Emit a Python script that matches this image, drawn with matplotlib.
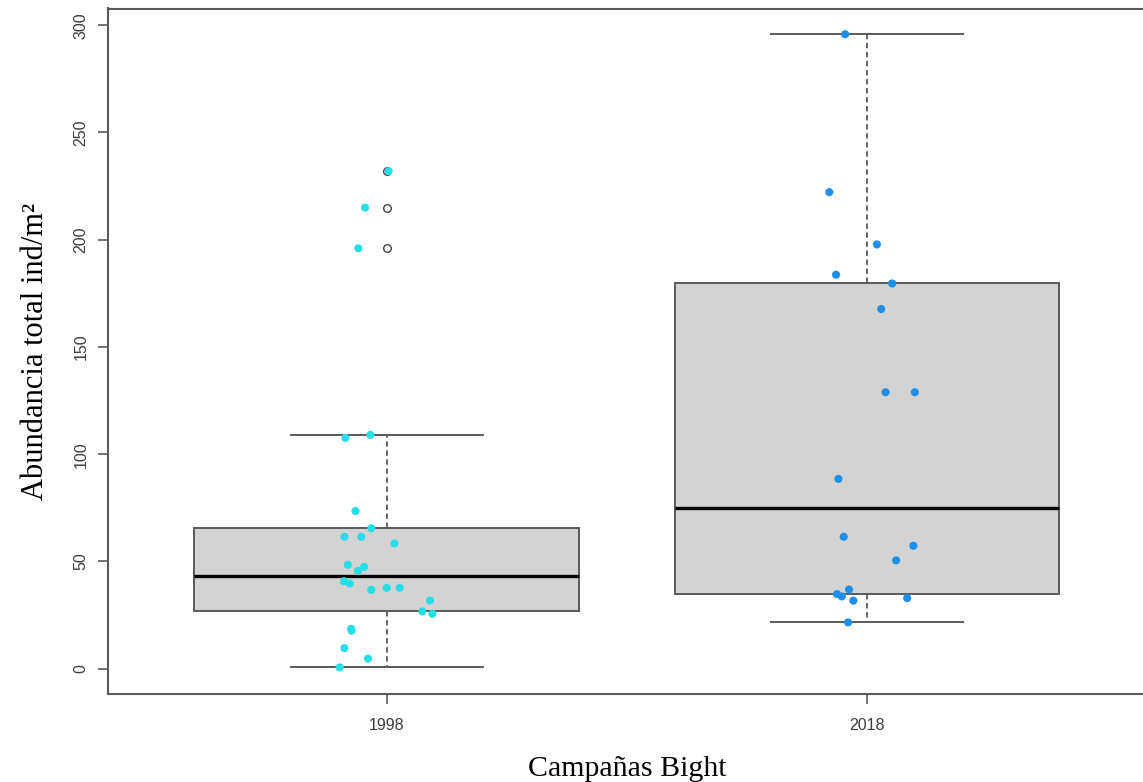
import matplotlib
matplotlib.use("Agg")
import matplotlib.pyplot as plt

# --- data ---
years = ["1998", "2018"]

# box statistics (R style hinges)
box_q1 = [26.7, 34.8]
box_med = [43.2, 75.0]
box_q3 = [65.5, 179.6]
whisker_lo = [0.6, 21.6]
whisker_hi = [109.0, 295.8]
outliers = [[196.0, 215.0, 232.0], []]

# jittered sample points: abundance and horizontal jitter (group units)
abund_1998 = [107.6, 109.0, 73.5, 65.5, 61.5, 61.5, 58.4, 48.4, 45.6, 47.5,
              40.8, 39.7, 36.8, 37.7, 37.7, 31.8, 26.7, 25.6, 18.6, 17.7,
              9.6, 4.7, 0.6, 232.0, 215.0, 196.0]
jitter_1998 = [-0.086, -0.034, -0.065, -0.032, -0.088, -0.053, 0.016, -0.081, -0.060, -0.047,
               -0.089, -0.077, -0.032, 0.000, 0.027, 0.090, 0.074, 0.095, -0.074, -0.073,
               -0.088, -0.039, -0.098, 0.004, -0.045, -0.059]

abund_2018 = [295.8, 222.2, 197.8, 183.7, 179.6, 167.7, 128.9, 128.9, 88.5,
              61.5, 57.3, 50.5, 36.9, 34.8, 33.7, 31.7, 32.9, 21.6]
jitter_2018 = [-0.046, -0.079, 0.020, -0.065, 0.052, 0.029, 0.038, 0.099, -0.060,
               -0.049, 0.096, 0.060, -0.038, -0.063, -0.053, -0.029, 0.083, -0.040]

point_colors = ["#27DEE6", "#1E8FE8"]
edge_gray = "#5a5a5a"
text_gray = "#3c3c3c"

fig = plt.figure(figsize=(11.43, 7.82), dpi=100)
ax = fig.add_axes([108 / 1143, 1 - 694 / 782, (1146 - 108) / 1143, (694 - 8.5) / 782])

stats = []
for i, name in enumerate(years):
    stats.append({
        "label": name,
        "q1": box_q1[i], "med": box_med[i], "q3": box_q3[i],
        "whislo": whisker_lo[i], "whishi": whisker_hi[i],
        "fliers": outliers[i],
    })

ax.bxp(stats, positions=[1, 2], widths=0.8, patch_artist=True,
       boxprops=dict(facecolor="#D3D3D3", edgecolor=edge_gray, linewidth=1.4),
       medianprops=dict(color="black", linewidth=2.4),
       whiskerprops=dict(color=edge_gray, linewidth=1.3, linestyle=(0, (3, 2))),
       capprops=dict(color=edge_gray, linewidth=1.4),
       capwidths=0.4,
       flierprops=dict(marker="o", markerfacecolor="none", markeredgecolor="#444444",
                       markersize=5.5, markeredgewidth=1.0),
       zorder=2)

groups = [(abund_1998, jitter_1998), (abund_2018, jitter_2018)]
for i, (vals, jit) in enumerate(groups):
    xs = [i + 1 + j for j in jit]
    ax.scatter(xs, vals, s=34, color=point_colors[i], edgecolors="none", zorder=4)

ax.set_xlim(0.42, 2.58)
ax.set_ylim(-11.8, 307.8)
ax.set_xticks([1, 2])
ax.set_xticklabels(years)
ax.set_yticks([0, 50, 100, 150, 200, 250, 300])

for lab in ax.get_yticklabels():
    lab.set_rotation(90)
    lab.set_va("center")

ax.tick_params(axis="both", length=7, width=1.2, color=edge_gray,
               labelcolor=text_gray, labelsize=11.5)
ax.tick_params(axis="y", pad=7)
ax.tick_params(axis="x", pad=10)
for lab in ax.get_xticklabels() + ax.get_yticklabels():
    lab.set_family(["Liberation Sans", "DejaVu Sans"])

for sp in ax.spines.values():
    sp.set_color(edge_gray)
    sp.set_linewidth(1.5)

serif = ["Liberation Serif", "DejaVu Serif"]
ax.set_xlabel("Campañas Bight", family=serif, fontsize=21.5, labelpad=16.5)
ax.set_ylabel("Abundancia total ind/m²", family=serif, fontsize=22, labelpad=17)

fig.savefig("out.png", dpi=100)
